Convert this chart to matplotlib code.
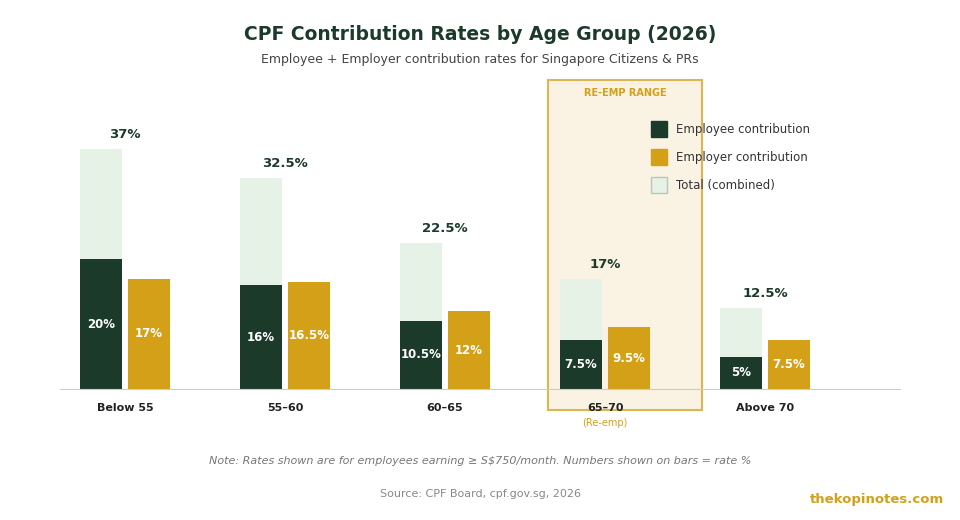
import matplotlib
matplotlib.use("Agg")
import matplotlib.pyplot as plt
from matplotlib.patches import Rectangle

groups = ["Below 55", "55–60", "60–65", "65–70", "Above 70"]
employee = [20, 16, 10.5, 7.5, 5]
employer = [17, 16.5, 12, 9.5, 7.5]
total = [37, 32.5, 22.5, 17, 12.5]

DG = "#1c3a2a"; GOLD = "#d4a017"; LIGHT = "#e6f2e6"
W, H = 960, 520
fig = plt.figure(figsize=(9.6, 5.2), dpi=100)
fx = lambda x: x / W
fy = lambda y: 1 - y / H

ax = fig.add_axes([fx(60), fy(389), 840/W, 289/H])
ax.patch.set_alpha(0)
for s in ["top", "right", "left"]:
    ax.spines[s].set_visible(False)
ax.spines["bottom"].set_color("#cccccc")
ax.set_yticks([]); ax.set_xticks([])
ax.set_xlim((60-125)/160, (900-125)/160)
ax.set_ylim(0, 289/6.49)

# highlight box behind bars
ax.add_patch(Rectangle((fx(548), fy(410)), fx(154), (410-80)/H, transform=fig.transFigure,
                       facecolor="#faf3e3", edgecolor="#dcb652", lw=1.5, zorder=0.5, clip_on=False))
fig.text(fx(625), fy(93), "RE-EMP RANGE", color=GOLD, fontsize=7, fontweight="bold", ha="center", va="center")

x = list(range(len(groups)))
bw = 42/160; off = 24/160
ex = [i - off for i in x]; rx = [i + off for i in x]
ax.bar(ex, total, bw, color=LIGHT, zorder=1)
ax.bar(ex, employee, bw, color=DG, zorder=2)
ax.bar(rx, employer, bw, color=GOLD, zorder=2)
fmt = lambda v: f"{v:g}%"
for i in x:
    ax.text(ex[i], employee[i]/2, fmt(employee[i]), color="white", fontsize=8.5, fontweight="bold", ha="center", va="center", zorder=3)
    ax.text(rx[i], employer[i]/2, fmt(employer[i]), color="white", fontsize=8.5, fontweight="bold", ha="center", va="center", zorder=3)
    ax.text(i, total[i] + 2.2, fmt(total[i]), color=DG, fontsize=9.5, fontweight="bold", ha="center", va="center", zorder=3)
    ax.text(i, -2.9, groups[i], color="#222222", fontsize=8, fontweight="bold", ha="center", va="center")
ax.text(3, -5.2, "(Re-emp)", color=GOLD, fontsize=7, ha="center", va="center")

items = [("Employee contribution", DG, DG), ("Employer contribution", GOLD, GOLD), ("Total (combined)", LIGHT, "#b8c8b8")]
for k, (lab, fc, ec) in enumerate(items):
    yc = 129 + 28*k
    fig.patches.append(Rectangle((fx(651), fy(yc+8)), fx(16), 16/H, transform=fig.transFigure,
                                 facecolor=fc, edgecolor=ec, lw=1, zorder=3))
    fig.text(fx(676), fy(yc), lab, color="#333333", fontsize=8.5, va="center")

fig.text(0.5, fy(35), "CPF Contribution Rates by Age Group (2026)", color=DG, fontsize=13.5, fontweight="bold", ha="center", va="center")
fig.text(0.5, fy(60), "Employee + Employer contribution rates for Singapore Citizens & PRs", color="#444444", fontsize=9, ha="center", va="center")
fig.text(0.5, fy(461), "Note: Rates shown are for employees earning ≥ S$750/month. Numbers shown on bars = rate %", color="#777777", fontsize=8, style="italic", ha="center", va="center")
fig.text(0.5, fy(494), "Source: CPF Board, cpf.gov.sg, 2026", color="#888888", fontsize=8, ha="center", va="center")
fig.text(fx(944), fy(500), "thekopinotes.com", color=GOLD, fontsize=9.5, fontweight="bold", ha="right", va="center")

fig.savefig("out.png", dpi=100, facecolor="white")
